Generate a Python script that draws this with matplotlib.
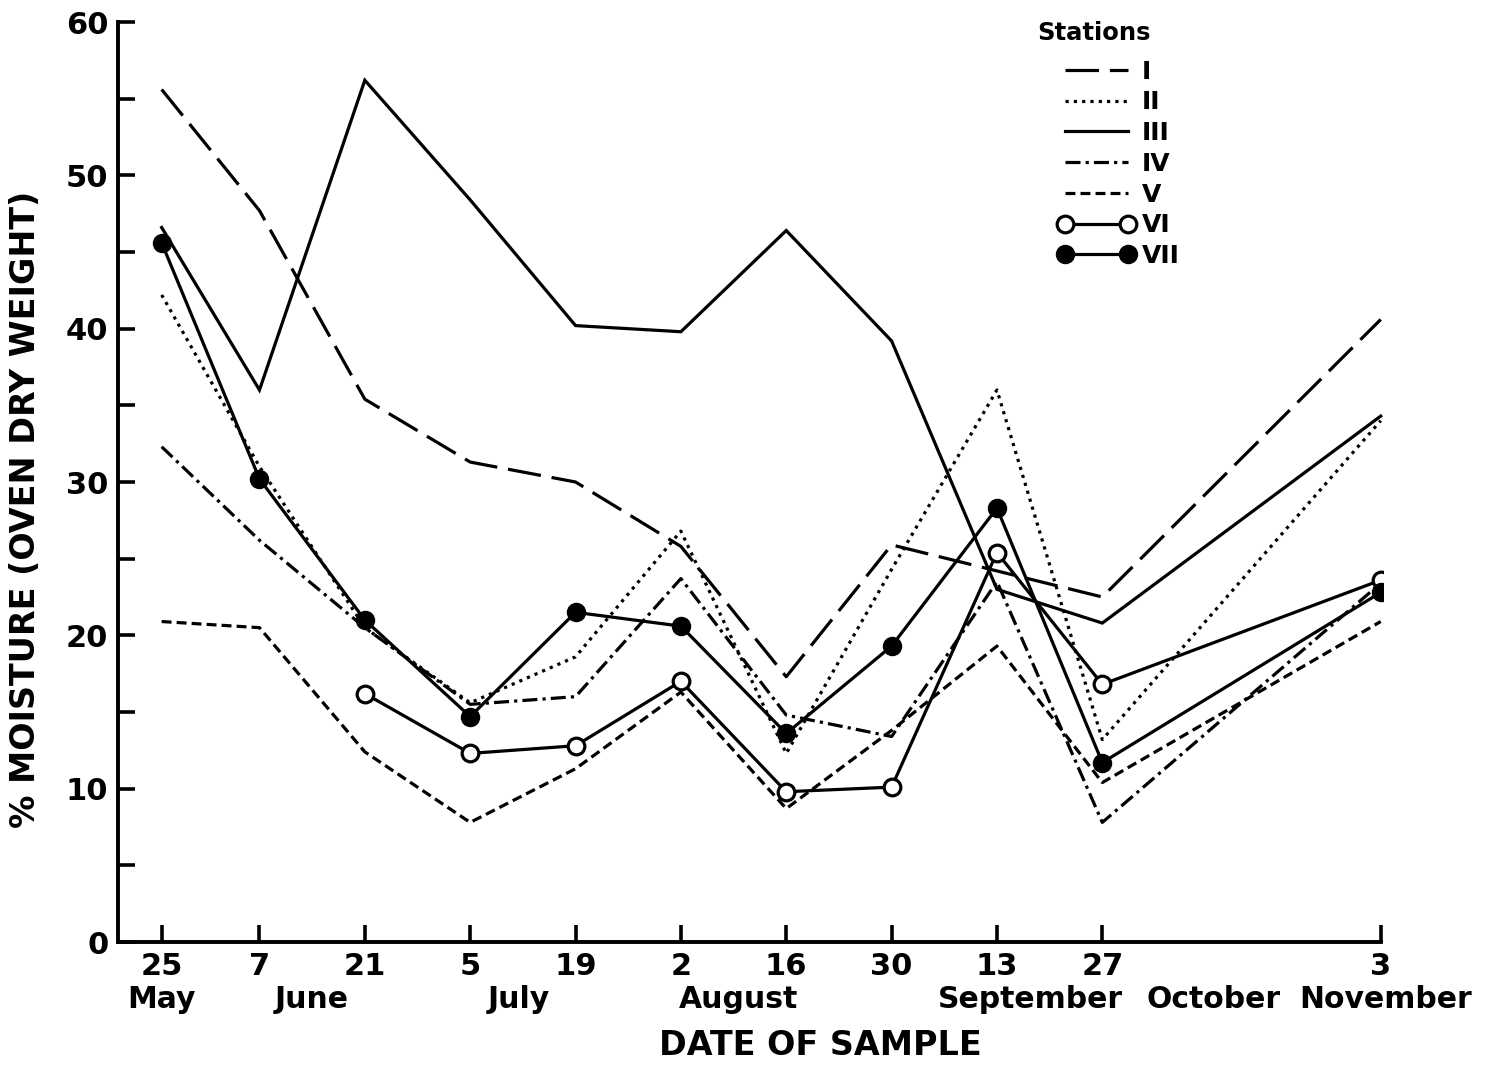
import numpy as np
import pandas as pd
import matplotlib
matplotlib.use("Agg")
import matplotlib.pyplot as plt
from matplotlib.ticker import MultipleLocator
from matplotlib.transforms import blended_transform_factory

# Sampling dates (month-day) and their axis labels
sample_dates = ["05-25", "06-07", "06-21", "07-05", "07-19", "08-02",
                "08-16", "08-30", "09-13", "09-27", "11-03"]
date_tick_labels = ["25", "7", "21", "5", "19", "2", "16", "30", "13", "27", "3"]
month_names = ["May", "June", "July", "August", "September", "October", "November"]

# % moisture (oven dry weight) per station
station_I = [55.6, 47.7, 35.4, 31.3, 30.0, 25.8, 17.3, 25.9, 24.2, 22.5, 40.6]
station_II = [42.2, 31.0, 20.5, 15.6, 18.6, 26.8, 12.3, 24.3, 36.0, 13.2, 34.0]
station_III = [46.6, 36.0, 56.2, 48.4, 40.2, 39.8, 46.4, 39.2, 23.0, 20.8, 34.3]
station_IV = [32.3, 26.2, 20.5, 15.5, 16.0, 23.7, 14.8, 13.4, 23.5, 7.8, 23.4]
station_V = [20.9, 20.5, 12.4, 7.8, 11.3, 16.3, 8.7, 13.8, 19.3, 10.4, 20.9]
station_VI = [np.nan, np.nan, 16.2, 12.3, 12.8, 17.0, 9.8, 10.1, 25.4, 16.8, 23.6]
station_VII = [45.6, 30.2, 21.0, 14.7, 21.5, 20.6, 13.6, 19.3, 28.3, 11.7, 22.8]

# days after the first sample
dates = pd.to_datetime(["2001-" + d for d in sample_dates])
days = np.asarray((dates - dates[0]).days, dtype=float)

# month name positions along the day axis
month_label_days = [0, 19.9, 47.4, 76.6, 115.5, 139.8, 162.6]

plt.rcParams["font.family"] = ["DejaVu Sans"]
plt.rcParams["font.weight"] = "bold"

fig = plt.figure(figsize=(14.9, 10.71), dpi=100)
ax = fig.add_axes([118 / 1490, 129 / 1071, 1265 / 1490, 920 / 1071])

lw = 2.3
styles = [
    ("I", station_I, dict(ls=(0, (10.5, 3.4)))),
    ("II", station_II, dict(ls=(0, (1, 1.6)))),
    ("III", station_III, dict(ls="-")),
    ("IV", station_IV, dict(ls=(0, (4.7, 1.6, 1, 1.6)))),
    ("V", station_V, dict(ls=(0, (3.1, 1.6)))),
    ("VI", station_VI, dict(ls="-", marker="o", ms=12, mfc="white",
                            mec="black", mew=2.3)),
    ("VII", station_VII, dict(ls="-", marker="o", ms=13, mfc="black",
                              mec="black", mew=1)),
]

handles = []
for name, vals, kw in styles:
    y = np.asarray(vals, dtype=float)
    ok = ~np.isnan(y)
    (ln,) = ax.plot(days[ok], y[ok], color="black", lw=lw,
                    dash_capstyle="butt", solid_joinstyle="miter", label=name, **kw)
    handles.append(ln)

ax.set_xlim(-5.8, 162.3)
ax.set_ylim(0, 60)

for side in ("top", "right"):
    ax.spines[side].set_visible(False)
for side in ("left", "bottom"):
    ax.spines[side].set_linewidth(2.8)
ax.spines["bottom"].set_bounds(-5.8, days[-1])

ax.set_xticks(days)
ax.set_xticklabels(date_tick_labels)
ax.yaxis.set_major_locator(MultipleLocator(10))
ax.yaxis.set_minor_locator(MultipleLocator(5))
ax.tick_params(axis="both", which="both", direction="in", length=12, width=2.6,
               labelsize=22, pad=7)
ax.tick_params(axis="x", pad=7)

trans = blended_transform_factory(ax.transData, ax.transAxes)
for name, d in zip(month_names, month_label_days):
    ax.text(d, -0.063, name, transform=trans, ha="center", va="center",
            fontsize=21.5, fontweight="bold")

ax.set_xlabel("DATE OF SAMPLE", fontsize=24, fontweight="bold")
ax.xaxis.label.set_va("center")
ax.xaxis.set_label_coords(0.555, -0.112)
ax.set_ylabel("% MOISTURE (OVEN DRY WEIGHT)", fontsize=24, fontweight="bold")
ax.yaxis.label.set_va("center")
ax.yaxis.set_label_coords(-0.073, 0.47)

ax.text(0.727, 0.988, "Stations", transform=ax.transAxes, ha="left",
        va="center", fontsize=17.5, fontweight="bold")
leg = ax.legend(handles=handles, loc="upper left", bbox_to_anchor=(0.743, 0.959),
                frameon=False, fontsize=18, handlelength=3.1, handletextpad=0.25,
                labelspacing=0.27, numpoints=2, borderpad=0, borderaxespad=0)

fig.savefig("out.png", dpi=100, facecolor="white")
